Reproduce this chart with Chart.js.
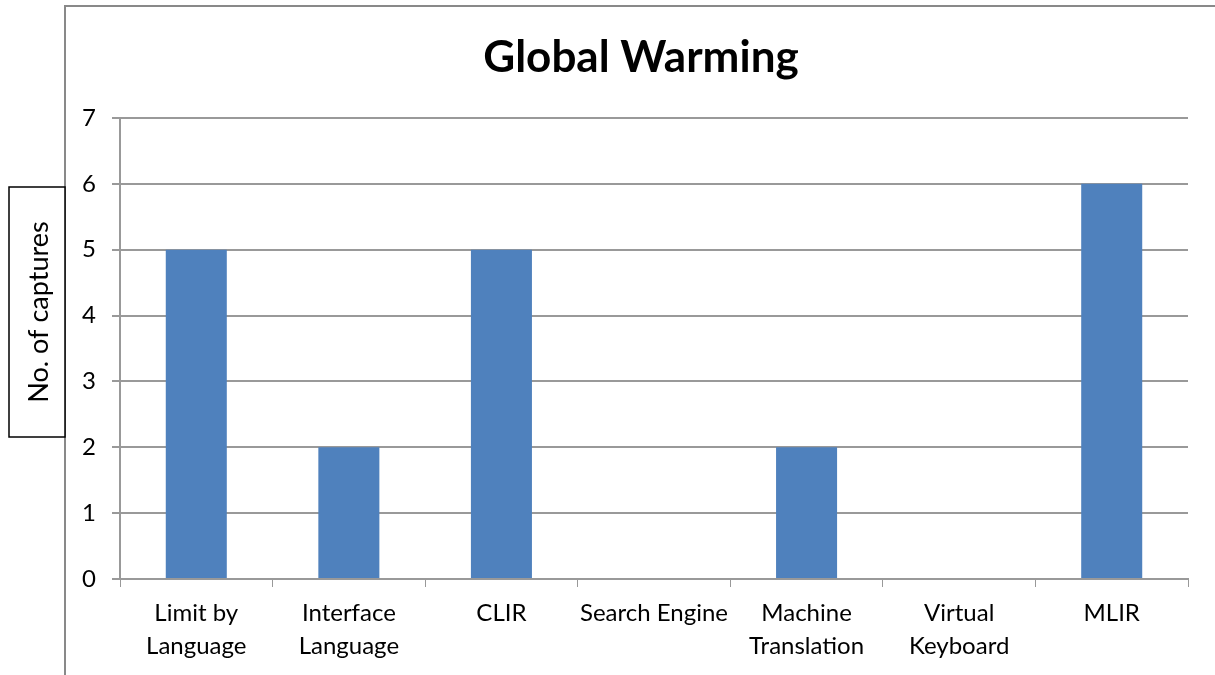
<!DOCTYPE html>
<html>
<head>
<meta charset="utf-8">
<script src="https://cdn.jsdelivr.net/npm/chart.js@4.4.1/dist/chart.umd.min.js"></script>
<style>
 html, body { margin: 0; padding: 0; background: #fff; }
 #wrap { width: 1215px; height: 675px; position: relative; }
</style>
</head>
<body>
<div id="wrap"><canvas id="warming"></canvas></div>
<script>
var categories = [
 ['Limit by', 'Language'],
 ['Interface', 'Language'],
 'CLIR',
 'Search Engine',
 ['Machine', 'Translation'],
 ['Virtual', 'Keyboard'],
 'MLIR'
];
var captures = [5, 2, 5, 0, 2, 0, 6];
var yTicks = [0, 1, 2, 3, 4, 5, 6, 7];
var chartTitle = 'Global Warming';
var yTitle = 'No. of captures';

var FONT = 'Lato, "Noto Sans", sans-serif';

// outer frame, title over the framed area, boxed axis title
var framePlugin = {
 id: 'frame',
 beforeDraw: function(chart) {
  var c = chart.ctx;
  c.save();
  c.strokeStyle = '#898989';
  c.lineWidth = 2;
  c.beginPath();
  c.moveTo(65, 675);
  c.lineTo(65, 6);
  c.lineTo(1215, 6);
  c.stroke();
  c.restore();
 },
 afterDraw: function(chart) {
  var c = chart.ctx;
  c.save();
  c.fillStyle = '#000';
  c.font = 'bold 44px ' + FONT;
  c.textAlign = 'center';
  c.textBaseline = 'middle';
  c.fillText(chartTitle, 641, 58);

  c.fillStyle = '#fff';
  c.fillRect(9, 187, 56, 250);
  c.strokeStyle = '#000';
  c.lineWidth = 1.5;
  c.strokeRect(9, 187, 56, 250);
  c.translate(39, 312);
  c.rotate(-Math.PI / 2);
  c.fillStyle = '#000';
  c.font = '27px ' + FONT;
  c.fillText(yTitle, 0, 0);
  c.restore();
 }
};

var config = {
 type: 'bar',
 data: {
  labels: categories,
  datasets: [{
   data: captures,
   backgroundColor: '#4f81bd',
   borderWidth: 0,
   barPercentage: 0.4,
   categoryPercentage: 1.0
  }]
 },
 options: {
  responsive: true,
  maintainAspectRatio: false,
  animation: false,
  layout: { padding: { left: 0, right: 27, top: 118, bottom: 0 } },
  plugins: {
   legend: { display: false },
   tooltip: { enabled: false },
   title: { display: false }
  },
  scales: {
   x: {
    grid: { display: true, drawOnChartArea: false, drawTicks: true, tickLength: 8, color: '#999', offset: true },
    border: { color: '#999', width: 2 },
    ticks: { color: '#000', font: { family: FONT, size: 24, lineHeight: 1.38 }, padding: 10, maxRotation: 0, autoSkip: false },
    afterFit: function(s) { s.height = 96; }
   },
   y: {
    min: 0,
    max: 7,
    grid: { color: '#999', lineWidth: 2, tickLength: 8 },
    border: { color: '#999', width: 2 },
    afterBuildTicks: function(s) { s.ticks = yTicks.map(function(v) { return { value: v }; }); },
    ticks: { color: '#000', font: { family: FONT, size: 24 }, padding: 16 },
    afterFit: function(s) { s.width = 120; }
   }
  }
 },
 plugins: [framePlugin]
};

window.onload = function() {
 var ctx = document.getElementById('warming').getContext('2d');
 window.myBar = new Chart(ctx, config);
};
</script>
</body>
</html>
